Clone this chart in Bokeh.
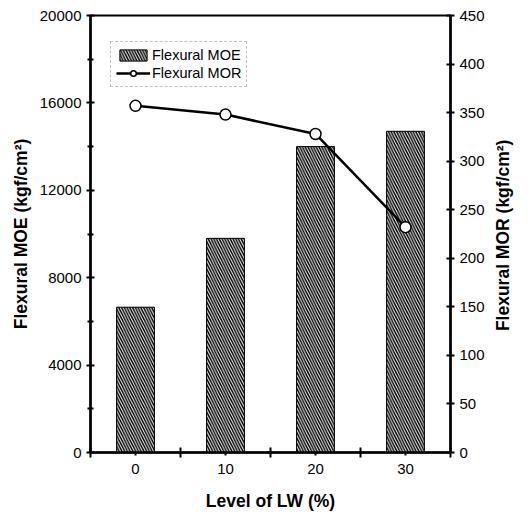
import math
from bokeh.plotting import figure
from bokeh.models import (ColumnDataSource, Range1d, LinearAxis, FixedTicker,
                          Legend, LegendItem)
from bokeh.embed import file_html
from bokeh.resources import INLINE

# ---- data ----
levels = ["0", "10", "20", "30"]
moe = [6650, 9800, 14000, 14700]      # Flexural MOE (kgf/cm2)
mor = [357, 348, 328, 232]            # Flexural MOR (kgf/cm2)
left_ticks = [0, 4000, 8000, 12000, 16000, 20000]
right_ticks = [0, 50, 100, 150, 200, 250, 300, 350, 400, 450]

xpos = list(range(len(levels)))
src = ColumnDataSource(dict(x=xpos, moe=moe, mor=mor))

FONT = "Liberation Sans"
TICK_FS = "15px"
TITLE_FS = "17.5px"

p = figure(width=528, height=513, output_backend="svg", toolbar_location=None,
           x_range=Range1d(-0.5, 3.5), y_range=Range1d(0, 20000),
           min_border_left=90, min_border_right=78, min_border_top=15,
           min_border_bottom=61)
p.extra_y_ranges = {"mor": Range1d(0, 450)}
p.grid.visible = False
p.outline_line_color = "black"
p.outline_line_width = 2
p.background_fill_color = "white"
p.border_fill_color = "white"

bars = p.vbar(x="x", top="moe", width=0.42, source=src, fill_color="black",
              line_color="black", line_width=1, hatch_pattern="\\",
              hatch_color="white", hatch_scale=5.5, hatch_weight=1.0)
ln = p.line(x="x", y="mor", source=src, y_range_name="mor",
            line_color="black", line_width=2.5)
pts = p.scatter(x="x", y="mor", source=src, y_range_name="mor", size=11,
                fill_color="white", line_color="black", line_width=1.5)

# bottom axis
xa = p.xaxis[0]
xa.ticker = FixedTicker(ticks=xpos, minor_ticks=[-0.5, 0.5, 1.5, 2.5, 3.5])
xa.major_label_overrides = {i: l for i, l in zip(xpos, levels)}
xa.axis_label = "Level of LW (%)"

# left axis
ya = p.yaxis[0]
ya.ticker = FixedTicker(ticks=left_ticks,
                        minor_ticks=[2000, 6000, 10000, 14000, 18000])
ya.axis_label = "Flexural MOE (kgf/cm²)"

# right axis
ra = LinearAxis(y_range_name="mor", ticker=FixedTicker(ticks=right_ticks))
p.add_layout(ra, "right")

for ax in [xa, ya, ra]:
    ax.axis_line_width = 2.5
    ax.axis_line_color = "black"
    ax.major_tick_line_color = "black"
    ax.major_tick_line_width = 2
    ax.minor_tick_line_color = "black"
    ax.minor_tick_line_width = 2
    ax.major_label_text_font = FONT
    ax.major_label_text_font_size = TICK_FS
    ax.major_label_text_color = "black"
    ax.axis_label_text_font = FONT
    ax.axis_label_text_font_size = TITLE_FS
    ax.axis_label_text_font_style = "bold"
    ax.axis_label_text_color = "black"
    ax.major_label_standoff = 5

ya.major_tick_in = 4
ya.major_tick_out = 4
ya.minor_tick_in = 3
ya.minor_tick_out = 3
ya.axis_label_standoff = 6
ra.major_tick_in = 4
ra.major_tick_out = 4
ra.minor_tick_line_color = None
xa.major_tick_in = 0
xa.major_tick_out = 3
xa.minor_tick_in = 5
xa.minor_tick_out = 5
xa.major_label_standoff = 6
xa.axis_label_standoff = 14

# right-hand title reading bottom-to-top: drawn as the single tick label of a
# bare second right axis; the text starts at the tick and runs upward
TITLE_START = 125
ta = LinearAxis(y_range_name="mor", ticker=FixedTicker(ticks=[TITLE_START]),
                major_label_overrides={TITLE_START: "Flexural MOR (kgf/cm²)"},
                major_label_orientation=math.pi / 2)
ta.axis_line_color = None
ta.major_tick_line_color = None
ta.minor_tick_line_color = None
ta.major_label_text_font = FONT
ta.major_label_text_font_size = TITLE_FS
ta.major_label_text_font_style = "bold"
ta.major_label_text_color = "black"
ta.major_label_standoff = 10
p.add_layout(ta, "right")

legend = Legend(items=[LegendItem(label="Flexural MOE", renderers=[bars]),
                       LegendItem(label="Flexural MOR", renderers=[ln, pts])],
                location=(20, 365))
legend.label_text_font = FONT
legend.label_text_font_size = "14.5px"
legend.label_text_color = "black"
legend.glyph_width = 34
legend.glyph_height = 14
legend.spacing = 2
legend.padding = 5
legend.margin = 0
legend.label_standoff = 2
legend.border_line_color = "gray"
legend.border_line_dash = "1 3"
legend.border_line_width = 1
legend.background_fill_alpha = 1
p.add_layout(legend, "center")

open("out.html", "w").write(file_html(p, INLINE))
